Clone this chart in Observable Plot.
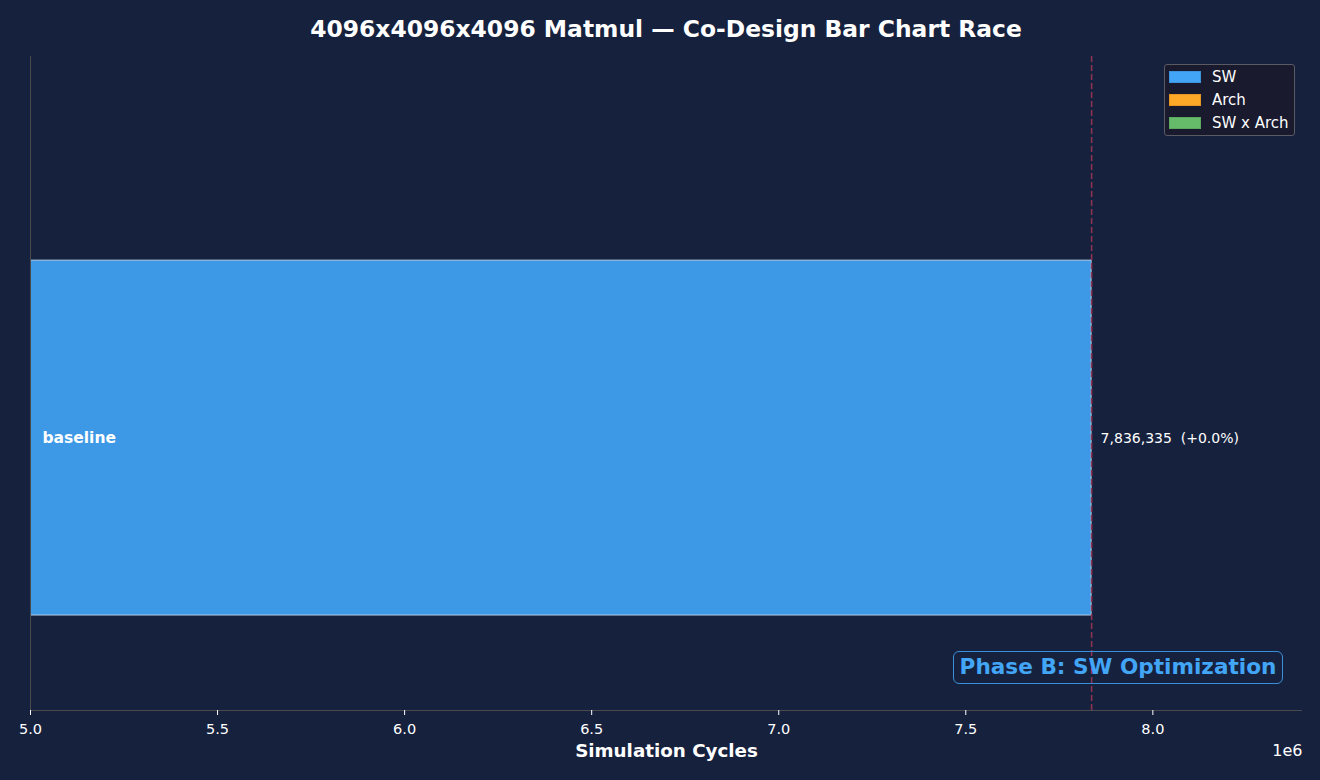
<!DOCTYPE html>
<html>
<head>
<meta charset="utf-8">
<script src="https://cdn.jsdelivr.net/npm/d3@7"></script>
<script src="https://cdn.jsdelivr.net/npm/@observablehq/plot@0.6"></script>
<style>
  html, body { margin: 0; padding: 0; background: #16213e; }
  #wrap { position: relative; width: 1320px; height: 780px; background: #16213e; font-family: "DejaVu Sans", sans-serif; overflow: hidden; }
  #title { position: absolute; left: 6px; top: 0; width: 1320px; height: 56px; line-height: 58px; text-align: center; color: #ffffff; font-weight: bold; font-size: 23.4px; }
  #chart { position: absolute; left: 0; top: 56px; }
  #legend { position: absolute; left: 1164px; top: 64px; width: 131px; height: 72px; background: #1a1a2e; border: 1px solid #5a5a62; border-radius: 3px; box-sizing: border-box; }
  .item { position: absolute; left: 4px; height: 16px; display: flex; align-items: center; color: #ffffff; font-size: 15px; }
  .sw { width: 32px; height: 12px; margin-right: 11px; box-sizing: border-box; }
  #phase { position: absolute; left: 953px; top: 651px; width: 330px; height: 33px; box-sizing: border-box; border: 1.5px solid #3a8fd8; border-radius: 6px; color: #42a5f5; font-weight: bold; font-size: 21.6px; line-height: 30px; text-align: center; white-space: nowrap; }
</style>
</head>
<body>
<div id="wrap">
  <div id="title"></div>
  <div id="chart"></div>
  <div id="legend"></div>
  <div id="phase"></div>
</div>
<script>
// ---- data ----
const titleText = "4096x4096x4096 Matmul \u2014 Co-Design Bar Chart Race";
const configs = ["baseline"];
const cycles = [7836335];
const configKinds = ["SW"];
const baselineCycles = 7836335;
const legendLabels = ["SW", "Arch", "SW x Arch"];
const legendColors = ["#42a5f5", "#ffa726", "#66bb6a"];
const barColors = {"SW": "#3d99e5", "Arch": "#ffa726", "SW x Arch": "#66bb6a"};
const xTicks = [5.0e6, 5.5e6, 6.0e6, 6.5e6, 7.0e6, 7.5e6, 8.0e6];
const xDomain = [5.0e6, 8.4e6];
const phaseText = "Phase B: SW Optimization";
const xLabel = "Simulation Cycles";

const rows = configs.map((c, i) => ({
  name: c, v: cycles[i], kind: configKinds[i], idx: i,
  pct: (cycles[i] - baselineCycles) / baselineCycles * 100
}));

document.getElementById("title").textContent = titleText;
document.getElementById("phase").textContent = phaseText;

const lg = document.getElementById("legend");
legendLabels.forEach((l, i) => {
  const it = document.createElement("div");
  it.className = "item";
  it.style.top = (4 + i * 23) + "px";
  const s = document.createElement("span");
  s.className = "sw";
  s.style.background = legendColors[i];
  s.style.border = "1px solid " + d3.color(legendColors[i]).darker(0.3);
  const t = document.createElement("span");
  t.textContent = l;
  it.appendChild(s); it.appendChild(t);
  lg.appendChild(it);
});

const fmt = d3.format(",");
const pctFmt = p => (p >= 0 ? "+" : "") + p.toFixed(1) + "%";

const plot = Plot.plot({
  width: 1320,
  height: 724,
  marginTop: 0,
  marginBottom: 70,
  marginLeft: 30,
  marginRight: 18,
  style: { background: "transparent", color: "#ffffff", fontFamily: "DejaVu Sans, sans-serif", fontSize: "14px" },
  x: { domain: xDomain },
  y: { domain: [-0.614, 0.86], axis: null },
  marks: [
    Plot.rect(rows, {
      x1: 0, x2: "v",
      y1: d => d.idx - 0.4, y2: d => d.idx + 0.4,
      fill: d => barColors[d.kind],
      stroke: "#c9d9ea", strokeWidth: 1, strokeOpacity: 0.85,
      clip: true
    }),
    Plot.ruleX([baselineCycles], { stroke: "#8a3352", strokeWidth: 1.6, strokeDasharray: "6,3" }),
    Plot.ruleX([xDomain[0]], { stroke: "#4a4a50", strokeWidth: 1 }),
    Plot.ruleY([-0.614], { stroke: "#4a4a50", strokeWidth: 1 }),
    Plot.text(rows, {
      x: xDomain[0], y: "idx", text: "name", textAnchor: "start", dx: 12,
      fill: "#ffffff", fontWeight: "bold", fontSize: 15.5
    }),
    Plot.text(rows, {
      x: "v", y: "idx", text: d => fmt(d.v) + " \u00a0(" + pctFmt(d.pct) + ")",
      textAnchor: "start", dx: 9, fill: "#ffffff", fontSize: 14
    }),
    Plot.axisX({
      ticks: xTicks, tickFormat: d => (d / 1e6).toFixed(1), tickSize: 5,
      stroke: "#ffffff", fill: "#ffffff", fontSize: 14.5, tickPadding: 8,
      label: null
    }),
    Plot.text([xLabel], {
      frameAnchor: "bottom", dy: 46, text: d => d, fill: "#ffffff",
      fontWeight: "bold", fontSize: 18.3
    }),
    Plot.text(["1e6"], {
      frameAnchor: "bottom-right", dy: 45, text: d => d, textAnchor: "end",
      fill: "#ffffff", fontSize: 16
    })
  ]
});
document.getElementById("chart").appendChild(plot);
</script>
</body>
</html>
